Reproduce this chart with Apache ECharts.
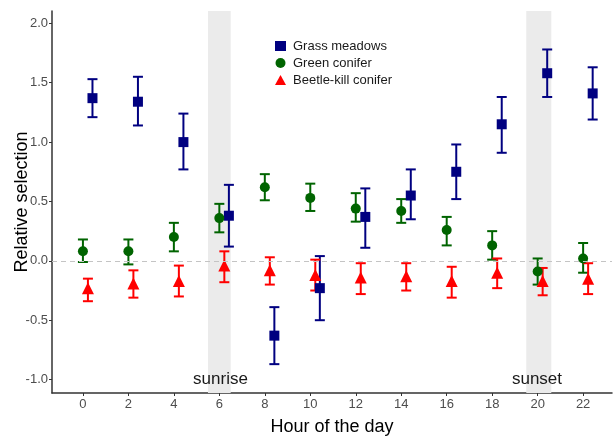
<!DOCTYPE html>
<html>
<head>
<meta charset="utf-8">
<script src="https://cdn.jsdelivr.net/npm/echarts@6/dist/echarts.min.js"></script>
<style>
  html, body { margin: 0; padding: 0; background: #fff; }
  #chart { width: 613px; height: 437px; }
</style>
</head>
<body>
<div id="chart"></div>
<script>
const hours = [0, 2, 4, 6, 8, 10, 12, 14, 16, 18, 20, 22]
const xTicks = [0, 2, 4, 6, 8, 10, 12, 14, 16, 18, 20, 22]
const yTicks = [-1.0, -0.5, 0.0, 0.5, 1.0, 1.5, 2.0]

// Grass meadows
const grassMean = [1.37, 1.34, 1.00, 0.38, -0.63, -0.23, 0.37, 0.55, 0.75, 1.15, 1.58, 1.41]
const grassLow = [1.21, 1.14, 0.77, 0.12, -0.87, -0.50, 0.11, 0.35, 0.52, 0.91, 1.38, 1.19]
const grassHigh = [1.53, 1.55, 1.24, 0.64, -0.39, 0.04, 0.61, 0.77, 0.98, 1.38, 1.78, 1.63]

// Green conifer
const greenMean = [0.08, 0.08, 0.20, 0.36, 0.62, 0.53, 0.44, 0.42, 0.26, 0.13, -0.09, 0.02]
const greenLow = [-0.01, -0.03, 0.08, 0.24, 0.51, 0.42, 0.33, 0.32, 0.13, 0.01, -0.20, -0.10]
const greenHigh = [0.18, 0.18, 0.32, 0.48, 0.73, 0.65, 0.57, 0.52, 0.37, 0.25, 0.02, 0.15]

// Beetle-kill conifer
const beetleMean = [-0.23, -0.19, -0.17, -0.04, -0.08, -0.12, -0.14, -0.13, -0.17, -0.10, -0.17, -0.15]
const beetleLow = [-0.34, -0.31, -0.30, -0.18, -0.20, -0.25, -0.28, -0.25, -0.31, -0.23, -0.29, -0.28]
const beetleHigh = [-0.15, -0.08, -0.04, 0.08, 0.03, 0.01, -0.02, -0.02, -0.05, 0.02, -0.06, -0.02]

// dodge offsets (hours)
const greenShift = 0
const beetleShift = 0.22
const grassShift = 0.42

const shades = [[5.5, 6.5], [19.5, 20.6]]
const shadeLabels = [[6.05, -1.0, 'sunrise'], [19.97, -1.0, 'sunset']]

function points(mean, shift) {
    return hours.map((h, i) => [h + shift, mean[i]])
}
function bars(low, high, shift) {
    return hours.map((h, i) => [h + shift, low[i], high[i]])
}

function errorSeries(name, data, color) {
    return {
        type: 'custom',
        name: name,
        data: data,
        z: 3,
        silent: true,
        renderItem(params, api) {
            const x = api.value(0)
            const lo = api.coord([x, api.value(1)])
            const hi = api.coord([x, api.value(2)])
            const cap = 5
            const style = { stroke: color, lineWidth: 2 }
            return {
                type: 'group',
                children: [
                    { type: 'line', shape: { x1: lo[0], y1: lo[1], x2: hi[0], y2: hi[1] }, style },
                    { type: 'line', shape: { x1: lo[0] - cap, y1: lo[1], x2: lo[0] + cap, y2: lo[1] }, style },
                    { type: 'line', shape: { x1: hi[0] - cap, y1: hi[1], x2: hi[0] + cap, y2: hi[1] }, style }
                ]
            }
        }
    }
}

const blue = '#000080'
const green = '#006400'
const red = '#ff0000'

const chart = echarts.init(document.getElementById('chart'))
chart.setOption({
    animation: false,
    textStyle: { fontFamily: 'Liberation Sans, Arial, sans-serif' },
    grid: { left: 52, right: 1, top: 11, bottom: 44, outerBoundsMode: 'none', containLabel: false },
    legend: {
        orient: 'vertical',
        left: 270,
        top: 34,
        itemGap: 3,
        itemWidth: 11,
        itemHeight: 10,
        textStyle: { fontSize: 13, lineHeight: 14, color: '#1a1a1a', padding: [0, 0, 0, 2] },
        data: ['Grass meadows', 'Green conifer', 'Beetle-kill conifer']
    },
    xAxis: {
        type: 'value',
        min: -1.36,
        max: 23.27,
        name: 'Hour of the day',
        nameLocation: 'middle',
        nameGap: 25,
        nameMoveOverlap: false,
        nameTextStyle: { fontSize: 18, color: '#000' },
        splitLine: { show: false },
        axisLine: { onZero: false, lineStyle: { color: '#333', width: 1.5 } },
        axisTick: { customValues: xTicks, length: 3, lineStyle: { color: '#333' } },
        axisLabel: { customValues: xTicks, fontSize: 13, color: '#4d4d4d', margin: 5 }
    },
    yAxis: {
        type: 'value',
        min: -1.113,
        max: 2.104,
        name: 'Relative selection',
        nameLocation: 'middle',
        nameGap: 21,
        nameMoveOverlap: false,
        nameTextStyle: { fontSize: 18, color: '#000' },
        splitLine: { show: false },
        axisLine: { show: true, onZero: false, lineStyle: { color: '#333', width: 1.5 } },
        axisTick: { show: true, customValues: yTicks, length: 3, lineStyle: { color: '#333' } },
        axisLabel: {
            customValues: yTicks, fontSize: 13, color: '#4d4d4d', margin: 4,
            formatter: v => v.toFixed(1)
        }
    },
    series: [
        {
            type: 'scatter',
            name: 'shade',
            data: [],
            silent: true,
            z: 1,
            markArea: {
                silent: true,
                itemStyle: { color: '#ebebeb', opacity: 1 },
                data: shades.map(s => [{ xAxis: s[0] }, { xAxis: s[1] }])
            },
            markLine: {
                silent: true,
                symbol: 'none',
                label: { show: false },
                lineStyle: { color: '#c4c4c4', type: [5, 4], width: 1.2 },
                data: [{ yAxis: 0 }]
            }
        },
        {
            type: 'scatter',
            name: 'shade labels',
            data: shadeLabels.map(d => [d[0], d[1], d[2]]),
            symbolSize: 1,
            itemStyle: { opacity: 0 },
            silent: true,
            z: 5,
            label: {
                show: true,
                position: 'inside',
                formatter: p => p.value[2],
                fontSize: 17,
                color: '#1a1a1a',
                opacity: 1
            }
        },
        errorSeries('Grass meadows bars', bars(grassLow, grassHigh, grassShift), blue),
        errorSeries('Green conifer bars', bars(greenLow, greenHigh, greenShift), green),
        errorSeries('Beetle-kill conifer bars', bars(beetleLow, beetleHigh, beetleShift), red),
        {
            type: 'scatter', name: 'Grass meadows', data: points(grassMean, grassShift),
            symbol: 'rect', symbolSize: 10, itemStyle: { color: blue, opacity: 1 }, z: 4
        },
        {
            type: 'scatter', name: 'Green conifer', data: points(greenMean, greenShift),
            symbol: 'circle', symbolSize: 10, itemStyle: { color: green, opacity: 1 }, z: 4
        },
        {
            type: 'scatter', name: 'Beetle-kill conifer', data: points(beetleMean, beetleShift),
            symbol: 'triangle', symbolSize: 12, itemStyle: { color: red, opacity: 1 }, z: 4
        }
    ]
})
</script>
</body>
</html>
